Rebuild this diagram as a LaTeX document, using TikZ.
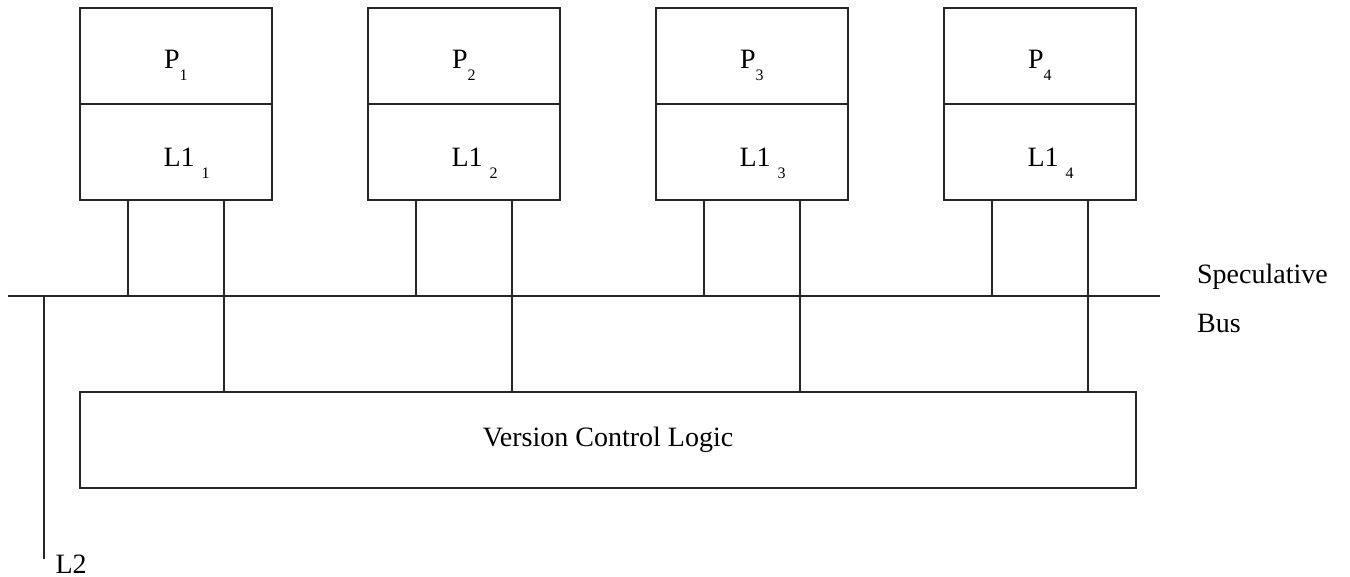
\documentclass[tikz,border=0pt]{standalone}
\usepackage{fontspec}
\setmainfont{Liberation Serif}
\newcommand{\idx}[1]{\raisebox{-12pt}{\fontsize{16}{16}\selectfont #1}}

\begin{document}
\begin{tikzpicture}[x=1pt, y=-1pt, line width=1.2pt, draw=black!85,
    font=\fontsize{28}{32}\selectfont,
    cell/.style={draw, minimum width=192pt, minimum height=96pt, inner sep=0pt},
    lbl/.style={anchor=base west, inner sep=0pt}]
    \useasboundingbox (0,0) rectangle (1350,576);

    % Processors
    \node[cell] (p1) at (176,56) {};
    \node[cell] (p2) at (464,56) {};
    \node[cell] (p3) at (752,56) {};
    \node[cell] (p4) at (1040,56) {};
    \node[lbl] (tp1) at (163.5,68.3) {P\idx{1}};
    \node[lbl] (tp2) at (451.5,68.3) {P\idx{2}};
    \node[lbl] (tp3) at (739.5,68.3) {P\idx{3}};
    \node[lbl] (tp4) at (1027.5,68.3) {P\idx{4}};

    % L1 caches
    \node[cell] (c1) at (176,152) {};
    \node[cell] (c2) at (464,152) {};
    \node[cell] (c3) at (752,152) {};
    \node[cell] (c4) at (1040,152) {};
    \node[lbl] (tc1) at (163,166) {L1 \idx{1}};
    \node[lbl] (tc2) at (451,166) {L1 \idx{2}};
    \node[lbl] (tc3) at (739,166) {L1 \idx{3}};
    \node[lbl] (tc4) at (1027,166) {L1 \idx{4}};

    % Version control logic
    \node[draw, minimum width=1056pt, minimum height=96pt, inner sep=0pt] (vcl) at (608,440) {Version Control Logic};

    % Speculative bus
    \coordinate (busw) at (8,296);
    \coordinate (buse) at (1160,296);
    \draw (busw) -- (buse);
    \node[lbl] (spec) at (1196.5,283.3) {Speculative};
    \node[lbl] (bus) at (1196.5,332) {Bus};

    % L2
    \coordinate (l2end) at (44,559);
    \draw (l2end |- busw) -- (l2end);
    \node[lbl] (l2) at (55,573) {L2};

    % Cache to bus
    \draw ([xshift=-48pt]c1.south) -- ([xshift=-48pt]c1.south |- busw);
    \draw ([xshift=-48pt]c2.south) -- ([xshift=-48pt]c2.south |- busw);
    \draw ([xshift=-48pt]c3.south) -- ([xshift=-48pt]c3.south |- busw);
    \draw ([xshift=-48pt]c4.south) -- ([xshift=-48pt]c4.south |- busw);

    % Cache to version control logic
    \draw ([xshift=48pt]c1.south) -- ([xshift=48pt]c1.south |- vcl.north);
    \draw ([xshift=48pt]c2.south) -- ([xshift=48pt]c2.south |- vcl.north);
    \draw ([xshift=48pt]c3.south) -- ([xshift=48pt]c3.south |- vcl.north);
    \draw ([xshift=48pt]c4.south) -- ([xshift=48pt]c4.south |- vcl.north);
\end{tikzpicture}
\end{document}
